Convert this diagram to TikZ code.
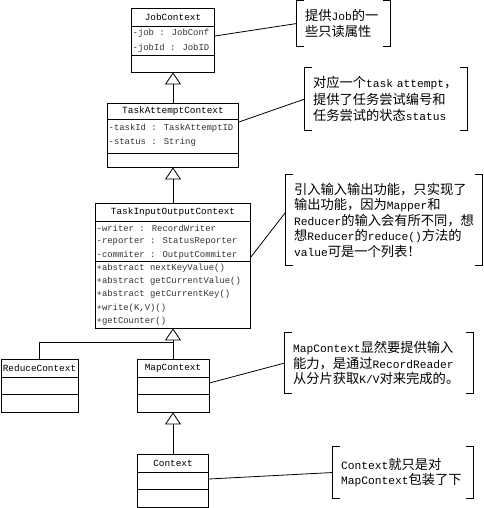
\documentclass[tikz,border=0pt]{standalone}
\usepackage{fontspec}
\setmainfont{Liberation Mono}
\newfontfamily\cjk{Noto Sans CJK SC}[Scale=1.18]
\usetikzlibrary{arrows.meta,calc}
\tikzset{
  classbox/.style={draw, line width=0.8pt, inner sep=0pt, fill=white},
  ctitle/.style={inner sep=0pt, font=\fontsize{9.4}{11}\selectfont},
  member/.style={inner sep=0pt, anchor=west, text=black!80, font=\fontsize{8.9}{11}\selectfont},
  inherit/.style={line width=0.8pt, -{Triangle[open, width=16pt, length=12pt, line width=0.8pt]}},
  link/.style={line width=0.8pt},
  note/.style={inner xsep=8pt, inner ysep=0pt, align=left, font=\fontsize{11.25}{15.5}\selectfont},
  bracket/.style={line width=0.8pt}
}
\begin{document}
\begin{tikzpicture}[x=1pt,y=-1pt]
\useasboundingbox (0,0) rectangle (483,508);

% ---------- JobContext
\node[classbox, minimum width=83pt, minimum height=64pt] (job) at (173,40) {};
\draw[link] ([yshift=-19pt]job.north west) -- ([yshift=-19pt]job.north east);
\draw[link] ([yshift=-48pt]job.north west) -- ([yshift=-48pt]job.north east);
\node[ctitle] (jobt) at (173,17.5) {JobContext};
\node[member] (jobm1) at (132.5,33) {-job : JobConf};
\node[member] (jobm2) at (132.5,48) {-jobId : JobID};

% ---------- TaskAttemptContext
\node[classbox, minimum width=131pt, minimum height=64pt] (tac) at (173,135) {};
\draw[link] ([yshift=-17pt]tac.north west) -- ([yshift=-17pt]tac.north east);
\draw[link] ([yshift=-51pt]tac.north west) -- ([yshift=-51pt]tac.north east);
\node[ctitle] (tact) at (173,111.5) {TaskAttemptContext};
\node[member] (tacm1) at (108.5,128) {-taskId : TaskAttemptID};
\node[member] (tacm2) at (108.5,142) {-status : String};

% ---------- TaskInputOutputContext
\node[classbox, minimum width=155pt, minimum height=125pt] (tioc) at (173,265.5) {};
\draw[link] ([yshift=-19pt]tioc.north west) -- ([yshift=-19pt]tioc.north east);
\draw[link] ([yshift=-59pt]tioc.north west) -- ([yshift=-59pt]tioc.north east);
\node[ctitle] (tioct) at (173,212.5) {TaskInputOutputContext};
\node[member] (tiocm1) at (96.5,228) {-writer : RecordWriter};
\node[member] (tiocm2) at (96.5,241.5) {-reporter : StatusReporter};
\node[member] (tiocm3) at (96.5,255) {-commiter : OutputCommiter};
\node[member] (tiocm4) at (96.5,268) {+abstract nextKeyValue()};
\node[member] (tiocm5) at (96.5,281.3) {+abstract getCurrentValue()};
\node[member] (tiocm6) at (96.5,294.6) {+abstract getCurrentKey()};
\node[member] (tiocm7) at (96.5,308) {+write(K,V)()};
\node[member] (tiocm8) at (96.5,321.3) {+getCounter()};

% ---------- ReduceContext / MapContext
\node[classbox, minimum width=77pt, minimum height=53pt] (reduce) at (39.5,385.5) {};
\draw[link] ([yshift=-19pt]reduce.north west) -- ([yshift=-19pt]reduce.north east);
\draw[link] ([yshift=-36pt]reduce.north west) -- ([yshift=-36pt]reduce.north east);
\node[ctitle] (reducet) at (39.5,368.5) {ReduceContext};

\node[classbox, minimum width=72pt, minimum height=53pt] (map) at (173,385.5) {};
\draw[link] ([yshift=-19pt]map.north west) -- ([yshift=-19pt]map.north east);
\draw[link] ([yshift=-36pt]map.north west) -- ([yshift=-36pt]map.north east);
\node[ctitle] (mapt) at (173,368.5) {MapContext};

% ---------- Context
\node[classbox, minimum width=71pt, minimum height=53pt] (ctx) at (173,480.5) {};
\draw[link] ([yshift=-19pt]ctx.north west) -- ([yshift=-19pt]ctx.north east);
\draw[link] ([yshift=-36pt]ctx.north west) -- ([yshift=-36pt]ctx.north east);
\node[ctitle] (ctxt) at (173,463.5) {Context};

% ---------- inheritance
\draw[inherit] (tac.north) -- (job.south);
\draw[inherit] (tioc.north) -- (tac.south);
\draw[inherit] (map.north) -- (tioc.south);
\coordinate (junc) at (173,342.5);
\draw[link] (reduce.north) |- (junc);
\draw[inherit] (ctx.north) -- (map.south);

% ---------- notes
\node[note, text width=77pt, minimum height=45pt] (n1) at (343.5,23.5)
  {{\cjk 提供}Job{\cjk 的一}\\{\cjk 些只读属性}};
\node[note, text width=146pt, minimum height=62pt, font=\fontsize{11.25}{16.5}\selectfont] (n2) at (386,99)
  {{\cjk 对应一个}task attempt{\cjk ，}\\{\cjk 提供了任务尝试编号和}\\{\cjk 任务尝试的状态}status};
\node[note, text width=180pt, minimum height=90pt] (n3) at (384,220)
  {{\cjk 引入输入输出功能，只实现了}\\{\cjk 输出功能，因为}Mapper{\cjk 和}\\Reducer{\cjk 的输入会有所不同，想}\\{\cjk 想}Reducer{\cjk 的}reduce(){\cjk 方法的}\\value{\cjk 可是一个列表！}};
\node[note, text width=172pt, minimum height=60pt] (n4) at (379,363)
  {MapContext{\cjk 显然要提供输入}\\{\cjk 能力，是通过}RecordReader\\{\cjk 从分片获取}K/V{\cjk 对来完成的。}};
\node[note, text width=124pt, minimum height=51pt] (n5) at (403,472.5)
  {Context{\cjk 就只是对}\\MapContext{\cjk 包装了下}};

\foreach \n in {n1,n2,n3,n4,n5}{
  \draw[bracket] ([xshift=7pt]\n.north west) -- (\n.north west) -- (\n.south west) -- ([xshift=7pt]\n.south west);
  \draw[bracket] ([xshift=-7pt]\n.north east) -- (\n.north east) -- (\n.south east) -- ([xshift=-7pt]\n.south east);
}

% ---------- note connectors
\draw[link] ([yshift=4pt]job.east) -- (n1.west);
\draw[link] ([yshift=13pt]tac.east) -- (n2.west);
\draw[link] ([yshift=8.5pt]tioc.east) -- ([yshift=8pt]n3.west);
\draw[link] ([yshift=2.5pt]map.east) -- (n4.west);
\draw[link] ([yshift=1.5pt]ctx.east) -- (n5.west);
\end{tikzpicture}
\end{document}
